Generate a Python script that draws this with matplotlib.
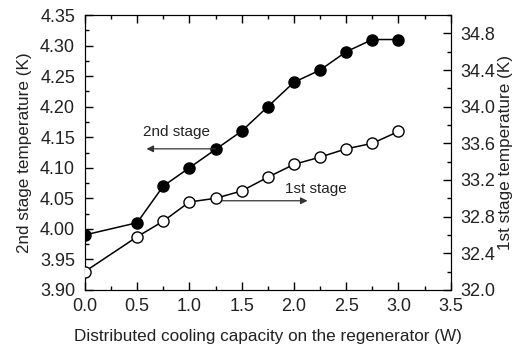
import matplotlib
matplotlib.use("Agg")
import matplotlib.pyplot as plt
from matplotlib.ticker import MultipleLocator

plt.rcParams['font.family'] = ['Liberation Sans', 'DejaVu Sans']

# cooling capacity on the regenerator (W)
power = [0.0, 0.5, 0.75, 1.0, 1.25, 1.5, 1.75, 2.0, 2.25, 2.5, 2.75, 3.0]
# 2nd stage temperature (K), left axis
t2 = [3.99, 4.01, 4.07, 4.10, 4.13, 4.16, 4.20, 4.24, 4.26, 4.29, 4.31, 4.31]
# 1st stage temperature (K), right axis
t1 = [32.20, 32.58, 32.75, 32.96, 33.00, 33.08, 33.23, 33.37, 33.45, 33.54, 33.60, 33.73]

txt = '#222222'
fig = plt.figure(figsize=(5.14, 3.51), dpi=100)
ax = fig.add_axes([0.165, 0.174, 0.712, 0.783])
ax2 = ax.twinx()

ax.plot(power, t2, '-o', color='black', mfc='black', mec='black',
        ms=8, lw=1.1, zorder=3)
ax2.plot(power, t1, '-o', color='black', mfc='white', mec='black',
         ms=8, mew=1.0, lw=1.1, zorder=3)

ax.set_xlim(0, 3.5)
ax.set_ylim(3.90, 4.35)
ax2.set_ylim(32.0, 35.0)

ax.xaxis.set_major_locator(MultipleLocator(0.5))
ax.xaxis.set_minor_locator(MultipleLocator(0.25))
ax.yaxis.set_major_locator(MultipleLocator(0.05))
ax.yaxis.set_minor_locator(MultipleLocator(0.025))
ax2.yaxis.set_major_locator(MultipleLocator(0.4))
ax2.yaxis.set_minor_locator(MultipleLocator(0.2))
ax.xaxis.set_major_formatter(plt.FormatStrFormatter('%.1f'))
ax.yaxis.set_major_formatter(plt.FormatStrFormatter('%.2f'))
ax2.yaxis.set_major_formatter(plt.FormatStrFormatter('%.1f'))

ax.tick_params(which='both', direction='in', top=True, right=False,
               labelsize=13, labelcolor=txt, width=1.0)
ax.tick_params(axis='y', pad=7)
ax.tick_params(axis='x', pad=6)
ax.tick_params(which='major', length=6)
ax.tick_params(which='minor', length=3)
ax2.tick_params(which='both', direction='in', labelsize=13, labelcolor=txt,
                width=1.0, pad=7)
ax2.tick_params(which='major', length=6)
ax2.tick_params(which='minor', length=3)

ax.set_xlabel('Distributed cooling capacity on the regenerator (W)',
              fontsize=12.3, color=txt, labelpad=10)
ax.set_ylabel('2nd stage temperature (K)', fontsize=12.3, color=txt, labelpad=6)
ax2.set_ylabel('1st stage temperature (K)', fontsize=12.3, color=txt, labelpad=2)

# arrows pointing each curve to its axis
ax.annotate('', xy=(0.59, 4.131), xytext=(1.25, 4.131),
            arrowprops=dict(arrowstyle='-|>', color='#333333', lw=0.9,
                            mutation_scale=10, shrinkA=0, shrinkB=0))
ax.text(0.88, 4.147, '2nd stage', fontsize=11, color=txt, ha='center', va='bottom')
ax.annotate('', xy=(2.13, 4.046), xytext=(1.26, 4.046),
            arrowprops=dict(arrowstyle='-|>', color='#333333', lw=0.9,
                            mutation_scale=10, shrinkA=0, shrinkB=0))
ax.text(2.21, 4.053, '1st stage', fontsize=11, color=txt, ha='center', va='bottom')

fig.savefig('out.png', dpi=100)
